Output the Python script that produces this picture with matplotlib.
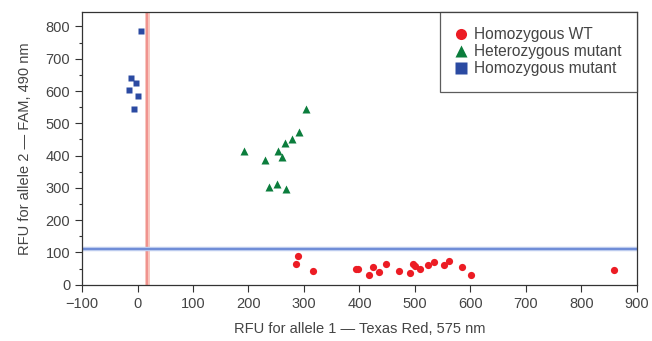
import numpy as np
import matplotlib.pyplot as plt
from matplotlib.ticker import MultipleLocator

plt.rcParams['font.family'] = ['Liberation Sans', 'DejaVu Sans']

# homozygous WT (red circles)
wt_x = [290, 285, 316, 393, 398, 425, 417, 435, 448, 471, 491, 496, 501, 509,
        524, 534, 552, 561, 585, 601, 858]
wt_y = [88, 63, 43, 48, 48, 54, 29, 40, 63, 43, 35, 63, 59, 50,
        60, 70, 62, 75, 55, 31, 46]

# heterozygous mutant (green triangles)
het_x = [304, 291, 278, 265, 192, 254, 260, 230, 237, 252, 268]
het_y = [543, 472, 451, 440, 415, 414, 396, 386, 302, 311, 295]

# homozygous mutant (blue squares)
hom_x = [6, -12, -2, -15, 0, -7]
hom_y = [787, 641, 624, 603, 585, 544]

x_cut = 17
y_cut = 110

fig = plt.figure(figsize=(6.52, 3.41), dpi=100)
ax = fig.add_axes([0.1258, 0.165, 0.851, 0.8])

txt = '#444444'

ax.axvline(x_cut, color='#f8c4bc', lw=3.5, zorder=1)
ax.axvline(x_cut, color='#ee8580', lw=1.1, zorder=1)
ax.axhline(y_cut, color='#bccbee', lw=3.2, zorder=1)
ax.axhline(y_cut, color='#5a7bd0', lw=1.1, zorder=1)

ax.plot(wt_x, wt_y, 'o', color='#ec1c24', ms=5.2, mec='none', label='Homozygous WT', zorder=3)
ax.plot(het_x, het_y, '^', color='#0b7d3c', ms=6, mec='none', label='Heterozygous mutant', zorder=3)
ax.plot(hom_x, hom_y, 's', color='#2b4aa2', ms=5, mec='none', label='Homozygous mutant', zorder=3)

ax.set_xlim(-100, 900)
ax.set_ylim(0, 845)
ax.yaxis.set_major_locator(MultipleLocator(100))
ax.yaxis.set_minor_locator(MultipleLocator(50))
ax.set_xticks(range(-100, 901, 100))
ax.set_xticklabels(['\u2212100'] + [str(v) for v in range(0, 901, 100)])

ax.tick_params(axis='both', which='major', length=5, width=0.8, colors='#333333',
               labelsize=10.5, labelcolor=txt)
ax.tick_params(axis='y', which='minor', length=2.5, width=0.8, colors='#333333')
for s in ax.spines.values():
    s.set_color('#333333')
    s.set_linewidth(0.9)

ax.set_xlabel('RFU for allele 1 \u2014 Texas Red, 575 nm', fontsize=10.5, color=txt, labelpad=8)
ax.set_ylabel('RFU for allele 2 \u2014 FAM, 490 nm', fontsize=10.5, color=txt, labelpad=10)

leg = ax.legend(loc='upper right', borderaxespad=0, fontsize=11.2, frameon=True,
                fancybox=False, edgecolor='#333333', handlelength=0.8,
                handletextpad=0.4, labelspacing=0.12, borderpad=1.0)
leg.get_frame().set_linewidth(0.9)
for t in leg.get_texts():
    t.set_color(txt)
for h in leg.legend_handles:
    h.set_markersize(8)

fig.savefig('out.png', dpi=100)
